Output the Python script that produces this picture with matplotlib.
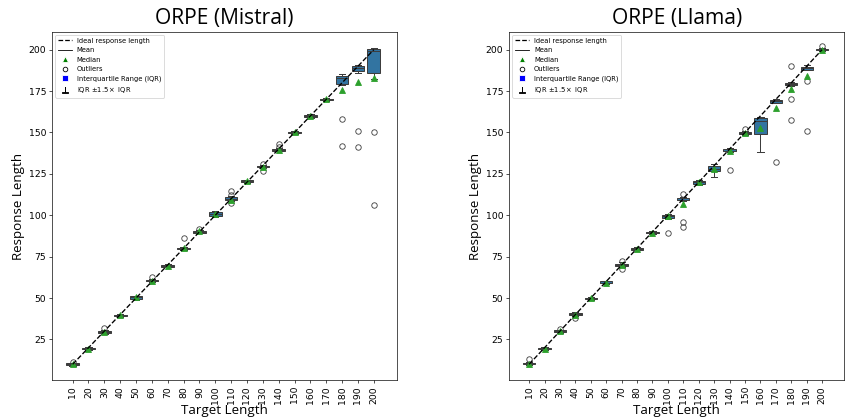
import numpy as np
import matplotlib.pyplot as plt
from matplotlib.lines import Line2D

#%% Datos

targets = [10, 20, 30, 40, 50, 60, 70, 80, 90, 100,
           110, 120, 130, 140, 150, 160, 170, 180, 190, 200]

# ORPE (Mistral)
mis_q1 = [9.5, 19, 29, 39, 49.5, 60, 69, 79.5, 89.5, 99.5,
          109.5, 120, 129, 139, 149.5, 159.5, 169.5, 179, 187, 186]
mis_med = [10, 19.5, 29.5, 39.5, 50.5, 60.5, 69.5, 80, 90, 100.5,
           110, 120.5, 129.5, 139.5, 150, 160, 170, 183, 189, 199]
mis_q3 = [10.5, 20, 30, 40, 51, 61, 70, 80.5, 90.5, 102,
          111, 121, 130, 140, 150.5, 160.5, 170.5, 184, 190, 200.5]
mis_lo = [9, 18.5, 28.5, 38.5, 49, 59.5, 68.5, 79, 89, 99,
          108.5, 119.5, 128.5, 138.5, 149, 159, 169, 178.5, 186, 182]
mis_hi = [11, 20.5, 30.5, 40.5, 51.5, 61.5, 70.5, 81, 91, 102.5,
          111.5, 121.5, 130.5, 140.5, 151, 161, 171, 185, 191, 201]
mis_mean = [10, 19.5, 29.5, 39.5, 50.5, 60.5, 69.5, 80.5, 90.5, 100.5,
            109.5, 120.5, 129, 139.5, 150, 160, 170, 175.5, 180.5, 183]
mis_fliers = [[11.5], [], [32], [], [], [62.5], [], [86], [91.5], [],
              [114.5, 112.5, 107.5], [], [127, 131], [141.5, 143], [], [], [],
              [158, 142], [151, 141], [150, 106]]

# ORPE (Llama)
lla_q1 = [10, 19, 29.5, 39.5, 49.3, 58.8, 69.5, 79.3, 89, 98.5,
          109, 119, 126.5, 138.5, 149, 149, 168, 178.5, 188, 199.5]
lla_med = [10.5, 19.5, 30, 40.3, 49.8, 59.3, 70, 79.8, 89.5, 99.5,
           109.5, 120, 128, 139, 149.5, 157, 169, 179, 189, 200]
lla_q3 = [11, 20, 30.5, 41, 50.3, 60, 70.8, 80.3, 90, 100,
          110.5, 120.5, 130, 139.8, 150.3, 158.5, 169.5, 179.8, 189.5, 200.5]
lla_lo = [9.5, 18.5, 29, 39, 49, 58.5, 69, 79, 88.5, 98,
          108.5, 118.5, 123, 138, 148.5, 138, 167.5, 178, 187.5, 199]
lla_hi = [11.5, 20.5, 31, 41.5, 50.8, 60.5, 71.5, 81, 90.5, 100.5,
          111, 121.5, 131, 140.5, 151, 159.5, 170, 180.5, 190.5, 201]
lla_mean = [10, 19.5, 30, 39.5, 49.8, 59.3, 70, 79.5, 89.5, 99.5,
            106.5, 120, 128, 138.7, 149.5, 152.5, 165, 176.5, 184, 199.5]
lla_fliers = [[13.2], [], [31.5], [37.7], [], [], [72.5, 67.5], [], [], [89.5],
              [113, 96.2, 92.7], [], [], [127.5], [151.8], [], [132],
              [190, 170.5, 157.5], [181, 151], [202.5]]

#%% Gráfico

plt.rcParams['font.size'] = 11
fig = plt.figure(figsize=(14, 6.935), dpi=60.43)
ax1 = fig.add_axes([0.0615, 0.093, 0.4075, 0.831])
ax2 = fig.add_axes([0.6017, 0.093, 0.3965, 0.831])

gris = '#3d3d3d'
caja = '#3274a1'
fuente = 'Open Sans'


def dibujar(ax, titulo, q1, med, q3, lo, hi, mean, fliers):
    stats = []
    for i in range(len(targets)):
        stats.append(dict(q1=q1[i], med=med[i], q3=q3[i], whislo=lo[i],
                          whishi=hi[i], mean=mean[i], fliers=fliers[i]))
    pos = np.arange(len(targets))
    ax.bxp(stats, positions=pos, widths=0.8, patch_artist=True, showmeans=True,
           boxprops=dict(facecolor=caja, edgecolor=gris, linewidth=1.2),
           medianprops=dict(color=gris, linewidth=1.2),
           whiskerprops=dict(color=gris, linewidth=1.2),
           capprops=dict(color=gris, linewidth=1.2),
           flierprops=dict(marker='o', markerfacecolor='none',
                           markeredgecolor=gris, markersize=6.5),
           meanprops=dict(marker='^', markerfacecolor='#2ca02c',
                          markeredgecolor='#2ca02c', markersize=7))
    ax.plot(pos, targets, 'k--', linewidth=1.6, zorder=5)
    ax.set_xticks(pos)
    ax.set_xticklabels([str(t) for t in targets], rotation=90)
    ax.set_xlim(-1.3, 20.45)
    ax.set_ylim(0.5, 210.8)
    ax.set_yticks([25, 50, 75, 100, 125, 150, 175, 200])
    ax.set_title(titulo, fontsize=25, family=fuente, pad=9)
    ax.set_xlabel('Target Length', fontsize=16, family=fuente, labelpad=0)
    ax.set_ylabel('Response Length', fontsize=16, family=fuente)

    handles = [
        Line2D([0], [0], color='black', linestyle='--', label='Ideal response length'),
        Line2D([0], [0], color='black', linewidth=1, label='Mean'),
        Line2D([0], [0], marker='^', color='w', markerfacecolor='green',
               markersize=6, label='Median'),
        Line2D([0], [0], marker='o', color='w', markerfacecolor='none',
               markeredgecolor='black', markersize=5.5, label='Outliers'),
        Line2D([0], [0], marker='s', color='w', markerfacecolor='blue',
               markersize=7, label='Interquartile Range (IQR)'),
        Line2D([0], [0], marker='$\\perp$', color='black', linestyle='none',
               markersize=7, label='IQR $\\pm1.5\\times$ IQR'),
    ]
    ax.legend(handles=handles, loc='upper left', fontsize=8)


dibujar(ax1, 'ORPE (Mistral)', mis_q1, mis_med, mis_q3, mis_lo, mis_hi,
        mis_mean, mis_fliers)
dibujar(ax2, 'ORPE (Llama)', lla_q1, lla_med, lla_q3, lla_lo, lla_hi,
        lla_mean, lla_fliers)

fig.savefig('out.png', dpi=60.43)
